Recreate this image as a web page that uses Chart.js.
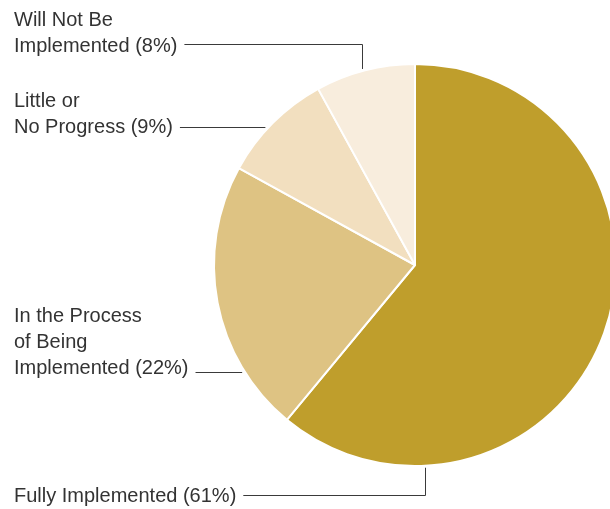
<!DOCTYPE html>
<html>
<head>
<meta charset="utf-8">
<script src="https://cdn.jsdelivr.net/npm/chart.js@4"></script>
<style>
  html, body { margin: 0; padding: 0; background: #fff; overflow: hidden; }
  #wrap { position: absolute; left: 0; top: 0; width: 640px; height: 509px; }
</style>
</head>
<body>
<div id="wrap"><canvas id="c" width="640" height="509"></canvas></div>
<script>
// ---- data ----
const categories = ["Fully Implemented", "In the Process of Being Implemented", "Little or No Progress", "Will Not Be Implemented"];
const values = [61, 22, 9, 8];
const labelLines = [["Fully Implemented"], ["In the Process", "of Being", "Implemented"], ["Little or", "No Progress"], ["Will Not Be", "Implemented"]];
const colors = ["#BF9E2C", "#DEC383", "#F2DFBF", "#F8EDDD"];

// ---- label layout (positions only) ----
const labelLayout = [
  { idx: 3, x: 14, baselines: [26, 52], lineY: 44.5, elbowX: 362.5 },
  { idx: 2, x: 14, baselines: [107, 133], lineY: 127.5 },
  { idx: 1, x: 14, baselines: [322, 348, 374], lineY: 372.5 },
  { idx: 0, x: 14, baselines: [502], lineY: 495.5, elbowX: 425.5 }
];

const calloutPlugin = {
  id: 'callouts',
  afterDraw(chart) {
    const ctx = chart.ctx;
    const meta = chart.getDatasetMeta(0);
    const arc = meta.data[0];
    const cx = arc.x, cy = arc.y, r = arc.outerRadius;
    ctx.save();
    ctx.font = '20px "Liberation Sans", Arial, sans-serif';
    ctx.fillStyle = '#333';
    ctx.strokeStyle = '#3a3a3a';
    ctx.lineWidth = 1;
    ctx.textBaseline = 'alphabetic';
    labelLayout.forEach(l => {
      const lines = labelLines[l.idx].slice();
      lines[lines.length - 1] = lines[lines.length - 1] + ' (' + values[l.idx] + '%)';
      lines.forEach((t, k) => ctx.fillText(t, l.x, l.baselines[k]));
      const lastW = ctx.measureText(lines[lines.length - 1]).width;
      const x0 = l.x + lastW + 7;
      ctx.beginPath();
      ctx.moveTo(x0, l.lineY);
      if (l.elbowX !== undefined) {
        const dx = l.elbowX - cx;
        const h = Math.sqrt(Math.max(r * r - dx * dx, 0));
        const yEnd = l.lineY < cy ? cy - h - 2 : cy + h + 2;
        ctx.lineTo(l.elbowX, l.lineY);
        ctx.lineTo(l.elbowX, yEnd);
      } else {
        const dy = l.lineY - cy;
        const w = Math.sqrt(Math.max(r * r - dy * dy, 0));
        ctx.lineTo(cx - w - 3, l.lineY);
      }
      ctx.stroke();
    });
    ctx.restore();
  }
};

new Chart(document.getElementById('c'), {
  type: 'pie',
  data: {
    labels: categories,
    datasets: [{
      data: values,
      backgroundColor: colors,
      borderColor: '#ffffff',
      borderWidth: 2,
      hoverOffset: 0,
      offset: 0
    }]
  },
  options: {
    responsive: false,
    animation: false,
    events: [],
    layout: { padding: { left: 213, top: 63, right: 23, bottom: 42 } },
    plugins: { legend: { display: false }, tooltip: { enabled: false } }
  },
  plugins: [calloutPlugin]
});
</script>
</body>
</html>
